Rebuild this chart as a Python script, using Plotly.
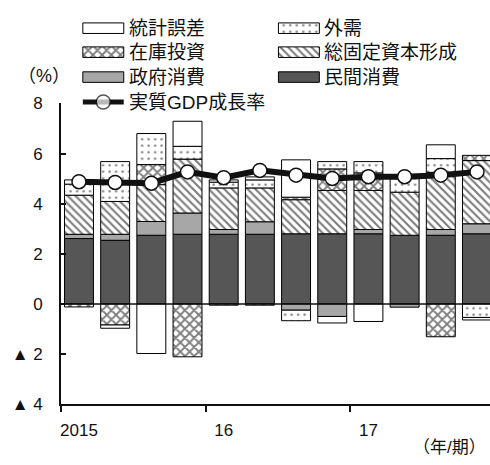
import plotly.graph_objects as go

# Quarterly contributions to real GDP growth (percentage points), 2015Q1-2017Q4
quarters = ["2015Q1", "2015Q2", "2015Q3", "2015Q4",
            "2016Q1", "2016Q2", "2016Q3", "2016Q4",
            "2017Q1", "2017Q2", "2017Q3", "2017Q4"]
private_cons = [2.61, 2.54, 2.74, 2.78, 2.78, 2.78, 2.80, 2.80, 2.80, 2.74, 2.74, 2.80]
gov_cons = [0.17, 0.24, 0.55, 0.85, 0.19, 0.50, -0.25, -0.50, 0.17, -0.13, 0.23, 0.40]
gfcf = [1.56, 1.31, 1.47, 2.15, 1.66, 1.35, 1.36, 1.73, 1.56, 1.72, 2.28, 2.52]
inventory = [-0.12, -0.84, 0.80, -2.11, -0.05, -0.05, 0.10, 0.86, 0.70, None, -1.31, 0.21]
net_exports = [0.44, 1.59, 1.24, 0.51, 0.23, 0.32, -0.42, 0.29, 0.45, 0.54, 0.55, -0.54]
discrepancy = [0.17, -0.13, -1.98, 1.00, 0.09, 0.12, 1.49, -0.26, -0.70, None, 0.55, -0.10]
gdp_growth = [4.88, 4.85, 4.82, 5.27, 5.04, 5.33, 5.14, 5.01, 5.08, 5.08, 5.14, 5.27]

year_ticks = [0, 4, 8]
year_labels = ["2015", "16", "17"]
y_ticks = [-4, -2, 0, 2, 4, 6, 8]
y_labels = ["▲ 4", "▲ 2", "0", "2", "4", "6", "8"]

FONT = "Liberation Sans, Noto Sans CJK JP, sans-serif"
W, H = 490, 465
LEFT, TOP, BOTTOM = 60, 98.5, 412

# fill styles per component
styles = {
    "民間消費": dict(color="#565656", pattern=None),
    "政府消費": dict(color="#a7a7a7", pattern=None),
    "総固定資本形成": dict(color="white", pattern=dict(shape="\\", size=5.5, solidity=0.4,
                                                  fgcolor="black", bgcolor="white")),
    "在庫投資": dict(color="white", pattern=dict(shape="x", size=6.5, solidity=0.5,
                                             fgcolor="black", bgcolor="white")),
    "外需": dict(color="white", pattern=dict(shape=".", size=6.5, solidity=0.12,
                                           fgcolor="black", bgcolor="white")),
    "統計誤差": dict(color="white", pattern=None),
}
series = [
    ("民間消費", private_cons),
    ("政府消費", gov_cons),
    ("総固定資本形成", gfcf),
    ("在庫投資", inventory),
    ("外需", net_exports),
    ("統計誤差", discrepancy),
]

x_pos = list(range(len(quarters)))

fig = go.Figure()


def marker_for(name):
    st = styles[name]
    m = dict(color=st["color"], line=dict(color="black", width=1))
    if st["pattern"] is not None:
        m["pattern"] = st["pattern"]
    return m


for name, vals in series:
    fig.add_trace(go.Bar(
        x=x_pos, y=vals, name=name, width=0.8,
        marker=marker_for(name), customdata=quarters,
        xaxis="x", yaxis="y", showlegend=False,
    ))

fig.add_trace(go.Scatter(
    x=x_pos, y=gdp_growth, name="実質GDP成長率", mode="lines+markers",
    line=dict(color="#111111", width=6),
    marker=dict(size=14, color="white", line=dict(color="#111111", width=1.5)),
    xaxis="x", yaxis="y", showlegend=False,
))

# key drawn on an overlay axis measured in page pixels
key_rows = [
    ("統計誤差", 82, 20), ("外需", 278, 20),
    ("在庫投資", 82, 45), ("総固定資本形成", 278, 45),
    ("政府消費", 82, 71), ("民間消費", 278, 71),
]
KEY_W, KEY_H = 41, 11
for name, kx, ky in key_rows:
    fig.add_trace(go.Bar(
        x=[KEY_W], y=[ky], base=[kx], orientation="h", width=KEY_H,
        marker=marker_for(name), xaxis="x2", yaxis="y2",
        showlegend=False, hoverinfo="skip",
    ))
    fig.add_annotation(x=kx + KEY_W + 3, y=ky, xref="x2", yref="y2", text=name,
                       showarrow=False, xanchor="left", yanchor="middle",
                       font=dict(family=FONT, size=19, color="#111111"))

fig.add_trace(go.Scatter(
    x=[82, 102.5, 123], y=[97, 97, 97], mode="lines+markers",
    line=dict(color="#111111", width=5),
    marker=dict(size=[0, 14, 0], color="white", line=dict(color="#111111", width=1.5)),
    xaxis="x2", yaxis="y2", showlegend=False, hoverinfo="skip",
))
fig.add_annotation(x=126, y=97, xref="x2", yref="y2", text="実質GDP成長率",
                   showarrow=False, xanchor="left", yanchor="middle",
                   font=dict(family=FONT, size=19, color="#111111"))

fig.add_annotation(x=43, y=70, xref="x2", yref="y2", text="（%）",
                   showarrow=False, xanchor="center", yanchor="middle",
                   font=dict(family=FONT, size=18, color="#111111"))
fig.add_annotation(x=488, y=457, xref="x2", yref="y2", text="（年/期）",
                   showarrow=False, xanchor="right", yanchor="middle",
                   font=dict(family=FONT, size=17, color="#111111"))

# zero line over the bars
fig.add_shape(type="line", xref="x domain", yref="y", x0=0, x1=1, y0=0, y1=0,
              line=dict(color="#111111", width=1.5), layer="above")

fig.update_layout(
    width=W, height=H,
    margin=dict(l=0, r=0, t=0, b=0),
    paper_bgcolor="white", plot_bgcolor="rgba(0,0,0,0)",
    barmode="relative", bargap=0.2,
    font=dict(family=FONT, size=17, color="#111111"),
    showlegend=False,
    xaxis=dict(
        domain=[LEFT / W, 1], range=[-0.5, 11.36], anchor="y",
        tickmode="array", tickvals=year_ticks, ticktext=year_labels,
        ticks="", ticklabelstandoff=10,
        showline=True, linecolor="#111111", linewidth=1.5,
        showgrid=False, zeroline=False,
        minor=dict(tickmode="array", tickvals=[-0.5, 3.5, 7.5], ticks="outside",
                   ticklen=6, tickwidth=1.5, tickcolor="#111111", showgrid=False),
        tickfont=dict(family=FONT, size=17, color="#111111"),
    ),
    yaxis=dict(
        domain=[(H - BOTTOM) / H, (H - TOP) / H], range=[-4, 8], anchor="x",
        tickmode="array", tickvals=y_ticks, ticktext=y_labels,
        ticks="inside", ticklen=5, tickwidth=1.5, tickcolor="#111111",
        ticklabelstandoff=13,
        showline=True, linecolor="#111111", linewidth=1.5,
        showgrid=False, zeroline=False,
        tickfont=dict(family=FONT, size=17, color="#111111"),
    ),
    xaxis2=dict(domain=[0, 1], range=[0, W], anchor="y2", visible=False, fixedrange=True),
    yaxis2=dict(domain=[0, 1], range=[H, 0], anchor="x2", visible=False, fixedrange=True),
)

fig.write_html("out.html")
